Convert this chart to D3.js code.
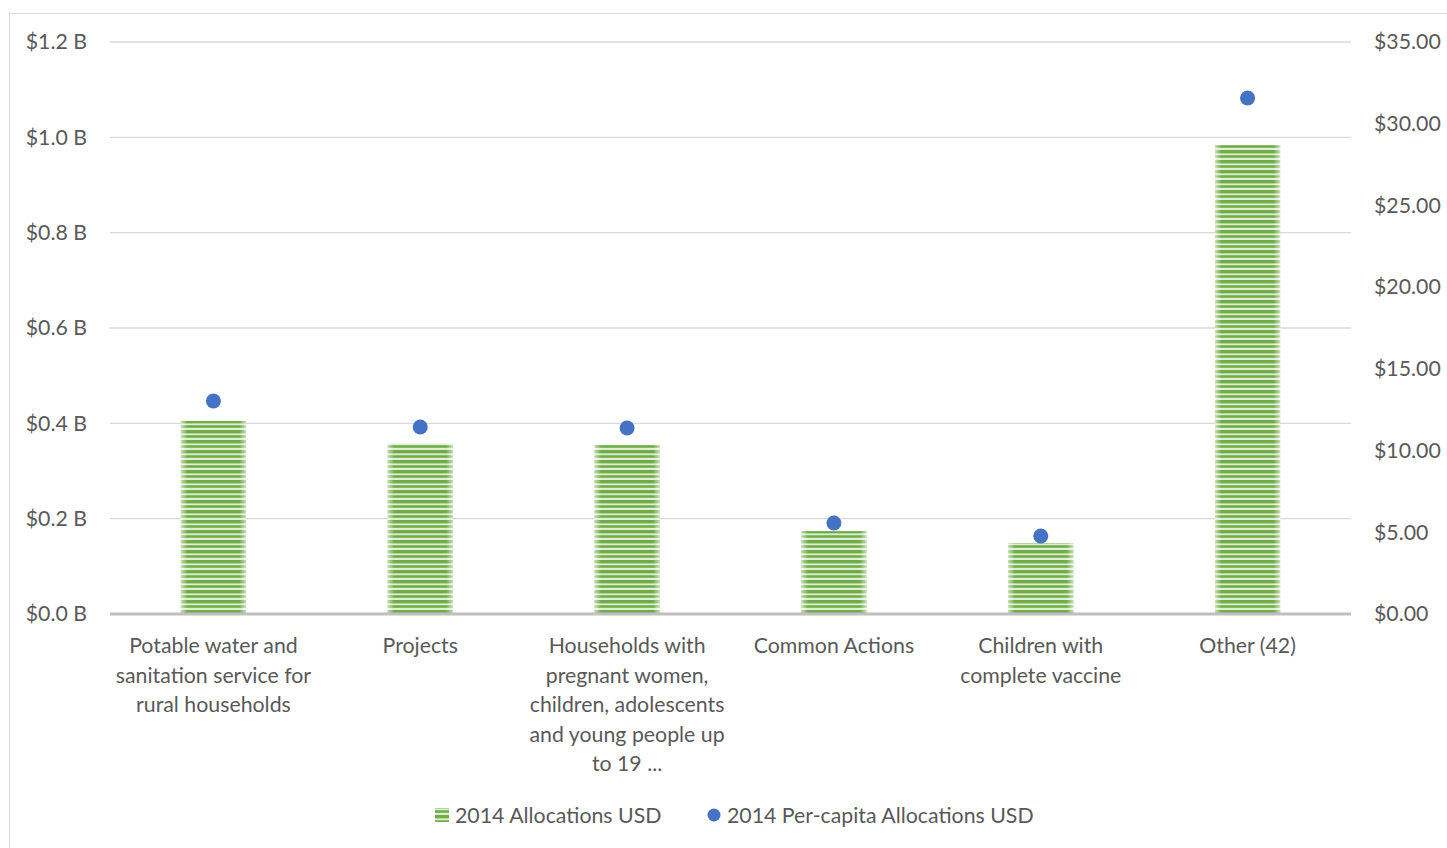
<!DOCTYPE html>
<html>
<head>
<meta charset="utf-8">
<script src="https://cdn.jsdelivr.net/npm/d3@7"></script>
<style>
  body { margin: 0; background: #fff; }
  svg { display: block; font-family: "Lato", "Open Sans", sans-serif; }
</style>
</head>
<body>
<div id="chart"></div>
<script>
const categories = ["Potable water and sanitation service for rural households", "Projects",
  "Households with pregnant women, children, adolescents and young people up to 19 ...",
  "Common Actions", "Children with complete vaccine", "Other (42)"];
const tickLabels = [
  ["Potable water and", "sanitation service for", "rural households"],
  ["Projects"],
  ["Households with", "pregnant women,", "children, adolescents", "and young people up", "to 19 ..."],
  ["Common Actions"],
  ["Children with", "complete vaccine"],
  ["Other (42)"]
];
const allocations = [0.405, 0.357, 0.355, 0.174, 0.149, 0.984]; // billions USD
const perCapita = [13.03, 11.44, 11.38, 5.57, 4.77, 31.57];     // USD
const leftTicks = [0, 0.2, 0.4, 0.6, 0.8, 1.0, 1.2];
const rightTicks = [0, 5, 10, 15, 20, 25, 30, 35];
const seriesNames = ["2014 Allocations USD", "2014 Per-capita Allocations USD"];

const width = 1447, height = 848;
const margin = { top: 42, right: 96, bottom: 234, left: 110 };
const textColor = "#595959";
const green = "#70ad47", blue = "#4472c4";
const fontSize = "21.3px";

const svg = d3.select("#chart").append("svg")
  .attr("width", width).attr("height", height);

const defs = svg.append("defs");
const pat = defs.append("pattern").attr("id", "stripes")
  .attr("patternUnits", "userSpaceOnUse").attr("width", 10).attr("height", 10);
pat.append("rect").attr("width", 10).attr("height", 10).attr("fill", "#e0eed5");
pat.append("rect").attr("y", 0).attr("width", 10).attr("height", 3.4).attr("fill", green);
pat.append("rect").attr("y", 5.2).attr("width", 10).attr("height", 2.6).attr("fill", green);

const edge = defs.append("linearGradient").attr("id", "edge");
[[0, 0.6], [0.1, 0], [0.9, 0], [1, 0.6]].forEach(([o, a]) =>
  edge.append("stop").attr("offset", o).attr("stop-color", "#fff").attr("stop-opacity", a));

// chart frame
svg.append("rect").attr("x", 9.5).attr("y", 13.5).attr("width", 1450).attr("height", 850)
  .attr("fill", "none").attr("stroke", "#d9d9d9");

const x = d3.scaleBand().domain(categories)
  .range([margin.left, width - margin.right]).paddingInner(0.685).paddingOuter(0.3425);
const y = d3.scaleLinear().domain([0, 1.2]).range([height - margin.bottom, margin.top]);
const y2 = d3.scaleLinear().domain([0, 35]).range([height - margin.bottom, margin.top]);

// gridlines
svg.append("g").selectAll("line").data(leftTicks.slice(1)).join("line")
  .attr("x1", margin.left).attr("x2", width - margin.right)
  .attr("y1", d => y(d)).attr("y2", d => y(d))
  .attr("stroke", "#d9d9d9").attr("stroke-width", 1.3);

// left axis
const gL = svg.append("g").attr("transform", `translate(${margin.left - 23},0)`)
  .call(d3.axisLeft(y).tickValues(leftTicks).tickSize(0).tickPadding(0)
    .tickFormat(d => "$" + d3.format(".1f")(d) + " B"))
  .attr("font-family", null).attr("font-size", null);
gL.select(".domain").remove();
gL.selectAll("text").attr("fill", textColor).style("font-size", fontSize);

// right axis
const gR = svg.append("g").attr("transform", `translate(${width - margin.right + 23},0)`)
  .call(d3.axisRight(y2).tickValues(rightTicks).tickSize(0).tickPadding(0)
    .tickFormat(d => "$" + d3.format(".2f")(d)))
  .attr("font-family", null).attr("font-size", null);
gR.select(".domain").remove();
gR.selectAll("text").attr("fill", textColor).style("font-size", fontSize);

// bars
const bars = svg.append("g");
categories.forEach((c, i) => {
  const bx = x(c), by = y(allocations[i]), bh = y(0) - y(allocations[i]);
  bars.append("rect").attr("x", bx).attr("y", by).attr("width", x.bandwidth()).attr("height", bh)
    .attr("fill", "url(#stripes)");
  bars.append("rect").attr("x", bx).attr("y", by).attr("width", x.bandwidth()).attr("height", bh)
    .attr("fill", "url(#edge)");
});

// baseline
svg.append("line").attr("x1", margin.left).attr("x2", width - margin.right)
  .attr("y1", y(0)).attr("y2", y(0)).attr("stroke", "#bfbfbf").attr("stroke-width", 3);

// dots
svg.append("g").selectAll("circle").data(perCapita).join("circle")
  .attr("cx", (d, i) => x(categories[i]) + x.bandwidth() / 2)
  .attr("cy", d => y2(d)).attr("r", 7.5).attr("fill", blue);

// category labels
const gX = svg.append("g").attr("transform", `translate(0,${y(0)})`)
  .call(d3.axisBottom(x).tickSize(0).tickFormat(""))
  .attr("font-family", null).attr("font-size", null);
gX.select(".domain").remove();
gX.selectAll(".tick").each(function(d, i) {
  const t = d3.select(this).append("text").attr("fill", textColor)
    .attr("text-anchor", "middle").style("font-size", fontSize);
  tickLabels[i].forEach((line, j) =>
    t.append("tspan").attr("x", 0).attr("y", 39 + j * 29.6).text(line));
});

// legend
const legend = svg.append("g").attr("transform", "translate(0,815)");
const lg1 = legend.append("g").attr("transform", "translate(435,0)");
lg1.append("rect").attr("x", 0).attr("y", -7).attr("width", 14).attr("height", 14).attr("fill", "url(#stripes)");
lg1.append("text").attr("x", 20).attr("y", 7.5).attr("fill", textColor).style("font-size", fontSize).text(seriesNames[0]);
const lg2 = legend.append("g").attr("transform", "translate(714,0)");
lg2.append("circle").attr("r", 6.5).attr("fill", blue);
lg2.append("text").attr("x", 13).attr("y", 7.5).attr("fill", textColor).style("font-size", fontSize).text(seriesNames[1]);
</script>
</body>
</html>
